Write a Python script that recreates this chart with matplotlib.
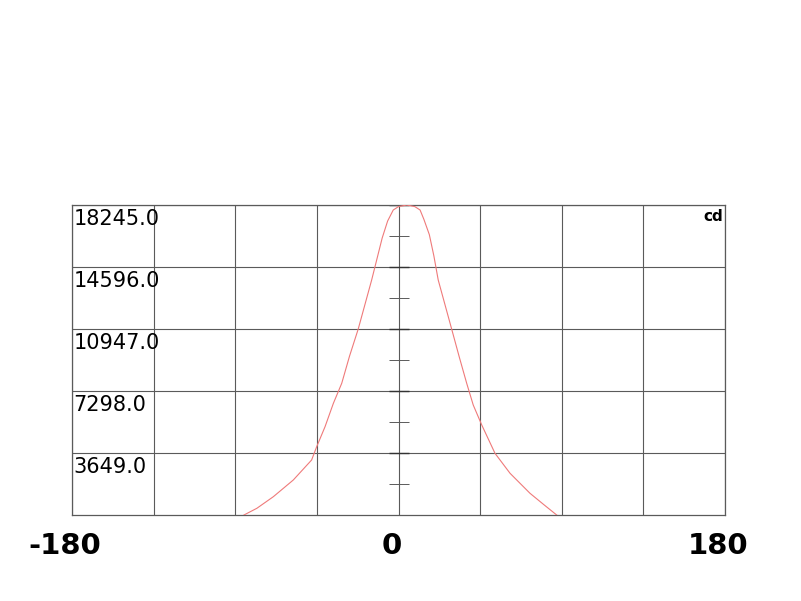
import numpy as np
import matplotlib
matplotlib.use('Agg')
import matplotlib.pyplot as plt
from matplotlib import transforms

# Curva de intensidad luminosa
angulos = [-85.2, -78.1, -69.0, -58.0, -47.9, -45.1, -40.5, -35.9, -31.3, -27.0,
           -22.2, -14.8, -9.0, -6.0, -2.9, 0.0, 4.5, 9.0, 11.9, 14.0, 17.0, 19.5,
           21.9, 29.3, 33.5, 37.6, 41.2, 45.9, 53.2, 61.5, 72.5, 80.0, 87.2]
candelas = [0, 394, 1077, 2060, 3237, 4020, 5197, 6574, 7750, 9350,
            10947, 13830, 16300, 17300, 17950, 18150, 18245, 18150, 17950, 17400, 16500, 15250,
            13830, 10947, 9300, 7750, 6474, 5297, 3630, 2454, 1277, 620, 0]

y_ticks = [3649.0, 7298.0, 10947.0, 14596.0, 18245.0]
y_minor = [1824.5, 5473.5, 9122.5, 12771.5, 16420.5]
x_ticks = [-180, 0, 180]
x_grid = np.arange(-180, 181, 45)

fig = plt.figure(figsize=(8.01, 6.01), dpi=100)
ax = fig.add_axes([72 / 801, 86 / 601, 653 / 801, 310 / 601])

gris = '#5a5a5a'
for xv in x_grid:
    ax.axvline(xv, color=gris, lw=0.8, zorder=1)
for yv in y_ticks:
    ax.axhline(yv, color=gris, lw=0.8, zorder=1)

# marcas sobre el eje central
ax.plot([0] * len(y_ticks), y_ticks, ls='none', marker='_', ms=14, mew=1.0, color='#333333', zorder=2)
ax.plot([0] * len(y_minor), y_minor, ls='none', marker='_', ms=14, mew=0.7, color=gris, zorder=2)

ax.plot(angulos, candelas, color='#ef7a7a', lw=0.8, zorder=3)

ax.set_xlim(-180, 180)
ax.set_ylim(0, 18245)
for s in ax.spines.values():
    s.set_color(gris)
    s.set_linewidth(0.9)

ax.set_yticks([])
ax.set_xticks(x_ticks)
ax.set_xticklabels([str(v) for v in x_ticks], fontsize=21, fontweight='bold')
ax.tick_params(axis='x', length=0, pad=12)
desplaza = transforms.ScaledTranslation(-7 / 100, 0, fig.dpi_scale_trans)
for lab in ax.get_xticklabels():
    lab.set_transform(lab.get_transform() + desplaza)

trans = transforms.blended_transform_factory(ax.transAxes, ax.transData)
for yv in y_ticks:
    ax.annotate(f'{yv:.1f}', xy=(0, yv), xycoords=trans, xytext=(1, -3),
                textcoords='offset points', ha='left', va='top', fontsize=15, zorder=4)

ax.annotate('cd', xy=(1, 1), xycoords='axes fraction', xytext=(-1, -3),
            textcoords='offset points', ha='right', va='top', fontsize=11, fontweight='bold')

plt.savefig('out.png', dpi=100)
